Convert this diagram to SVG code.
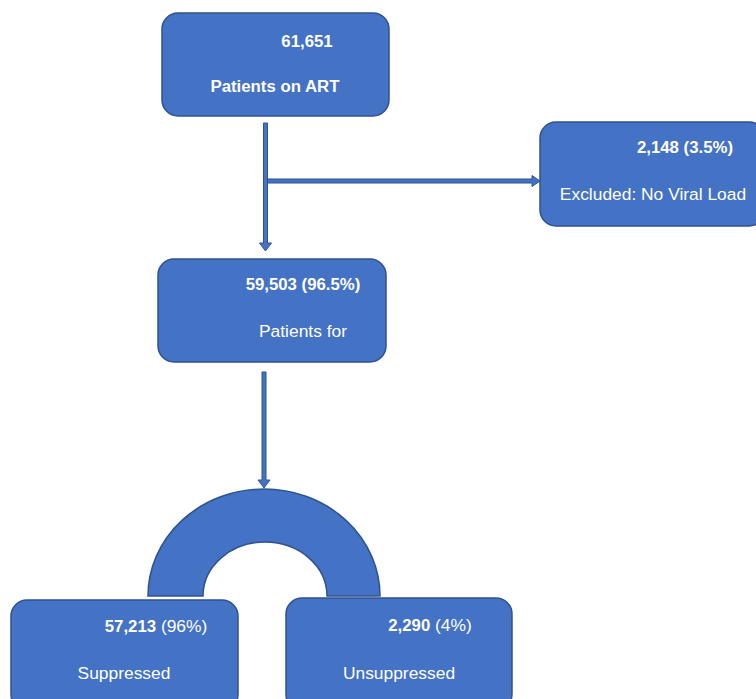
<svg xmlns="http://www.w3.org/2000/svg" width="756" height="699" viewBox="0 0 756 699">
<style>
.box{fill:#4472C4;stroke:#2F528F;stroke-width:1.5}
.arr{fill:#4472C4;stroke:#2F528F;stroke-width:1}
text{font-family:"Liberation Sans",Arial,sans-serif;font-size:17.4px;fill:#ffffff;text-anchor:middle}
.b{font-weight:bold;font-size:16.8px}
</style>
<rect width="756" height="699" fill="#ffffff"/>
<g id="connectors">
<polygon class="arr" points="263.5,123 267.5,123 267.5,243 271.5,243 265.5,251 259.5,243 263.5,243"/>
<polygon class="arr" points="267.5,179 532,179 532,175.5 540,181 532,186.5 532,183 267.5,183"/>
<polygon class="arr" points="262,372 266,372 266,480 270,480 264,488 258,480 262,480"/>
</g>
<g id="n1">
<rect class="box" x="162" y="13" width="227" height="103" rx="16"/>
<text class="b" x="307" y="47">61,651</text>
<text class="b" x="275" y="92">Patients on ART</text>
</g>
<g id="n2">
<rect class="box" x="540" y="122" width="225" height="104" rx="16"/>
<text class="b" x="685" y="153">2,148 (3.5%)</text>
<text x="653" y="200">Excluded: No Viral Load</text>
</g>
<g id="n3">
<rect class="box" x="158" y="259" width="228" height="103" rx="16"/>
<text class="b" x="303" y="290">59,503 (96.5%)</text>
<text x="303" y="337">Patients for</text>
</g>
<g id="arch">
<path class="box" d="M148,596 A116,107 0 0 1 380,596 L327,596 A62,54 0 0 0 203,596 Z"/>
</g>
<g id="n4">
<rect class="box" x="11" y="600" width="227" height="110" rx="16"/>
<text x="156" y="632"><tspan class="b">57,213</tspan> (96%)</text>
<text x="124" y="679">Suppressed</text>
</g>
<g id="n5">
<rect class="box" x="286" y="598" width="226" height="112" rx="16"/>
<text x="430" y="631"><tspan class="b">2,290</tspan> (4%)</text>
<text x="399" y="679">Unsuppressed</text>
</g>
</svg>
